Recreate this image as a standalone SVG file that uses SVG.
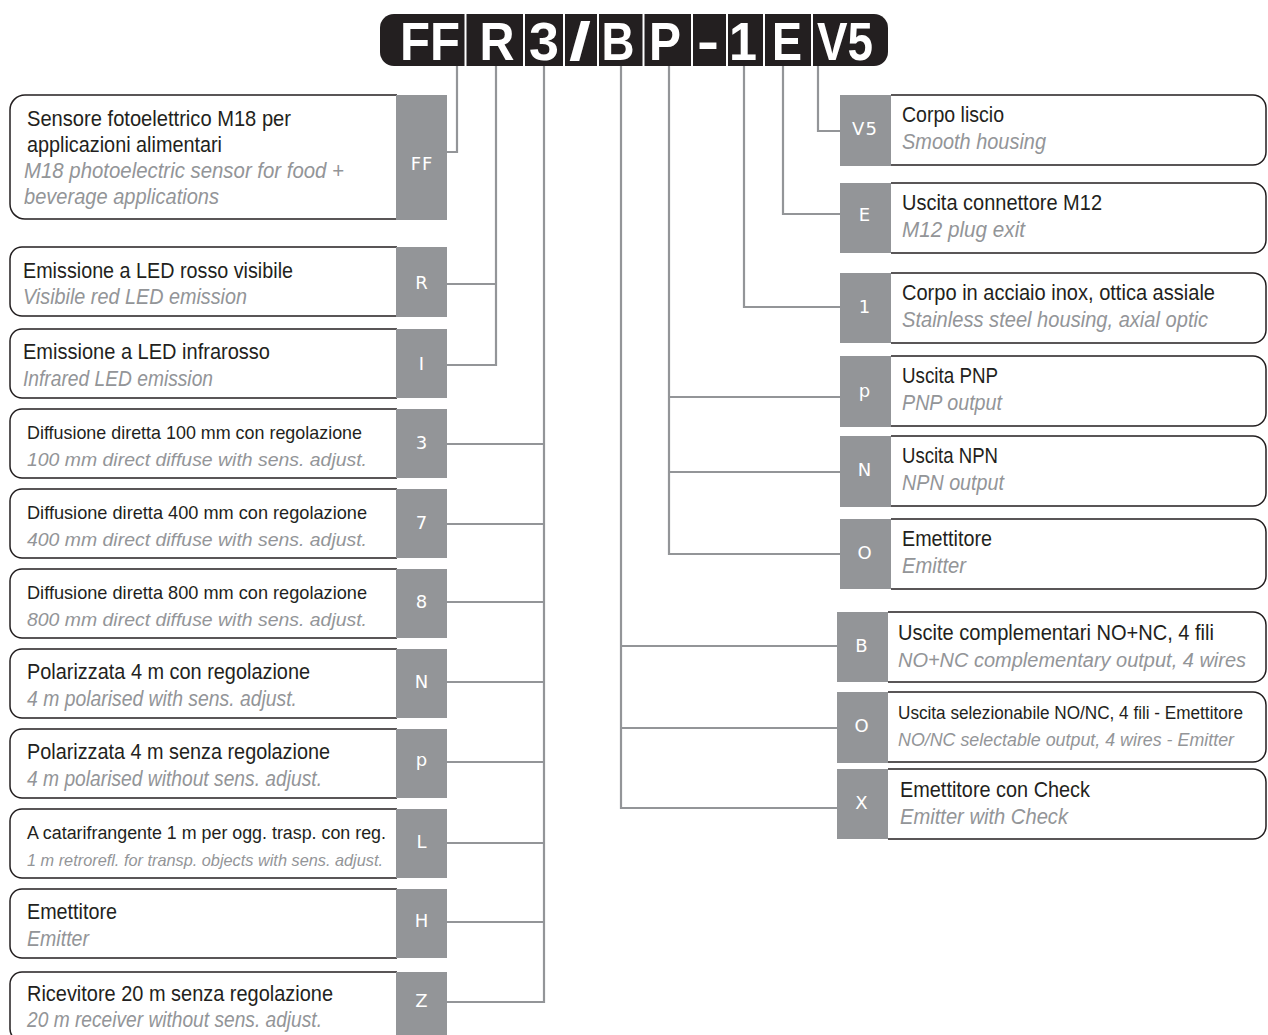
<svg xmlns="http://www.w3.org/2000/svg" width="1268" height="1035" viewBox="0 0 1268 1035">
<style>
.box{fill:#fff;stroke:#231f20;stroke-width:1.5}
.tab{fill:#939598}
.tl{font-family:"DejaVu Sans",sans-serif;font-size:18px;fill:#fff;text-anchor:middle;dominant-baseline:central;letter-spacing:1px}
.t1{font-family:"Liberation Sans",Arial,sans-serif;font-size:22px;fill:#231f20}
.t2{font-family:"Liberation Sans",Arial,sans-serif;font-size:22px;font-style:italic;fill:#939598}
.hd{font-family:"Liberation Sans",Arial,sans-serif;font-size:54px;font-weight:bold;fill:#fff;text-anchor:middle}
.con{fill:none;stroke:#939598;stroke-width:2.2}
.sep{stroke:#fff;stroke-width:2}
</style>
<rect width="1268" height="1035" fill="#fff"/>
<g id="header">
<rect x="380" y="14" width="508" height="52" rx="14" fill="#231f20"/>
<line class="sep" x1="465.5" y1="14" x2="465.5" y2="66"/>
<line class="sep" x1="524" y1="14" x2="524" y2="66"/>
<line class="sep" x1="564" y1="14" x2="564" y2="66"/>
<line class="sep" x1="598" y1="14" x2="598" y2="66"/>
<line class="sep" x1="643.5" y1="14" x2="643.5" y2="66"/>
<line class="sep" x1="692" y1="14" x2="692" y2="66"/>
<line class="sep" x1="727" y1="14" x2="727" y2="66"/>
<line class="sep" x1="764" y1="14" x2="764" y2="66"/>
<line class="sep" x1="812" y1="14" x2="812" y2="66"/>
<text class="hd" x="430" y="60" textLength="60" lengthAdjust="spacingAndGlyphs">FF</text>
<text class="hd" x="497" y="60" textLength="35" lengthAdjust="spacingAndGlyphs">R</text>
<text class="hd" x="544" y="60" textLength="30" lengthAdjust="spacingAndGlyphs">3</text>
<text class="hd" x="580" y="60" textLength="22" lengthAdjust="spacingAndGlyphs">/</text>
<text class="hd" x="618" y="60" textLength="33" lengthAdjust="spacingAndGlyphs">B</text>
<text class="hd" x="665" y="60" textLength="32" lengthAdjust="spacingAndGlyphs">P</text>
<text class="hd" x="708" y="60" textLength="22" lengthAdjust="spacingAndGlyphs">-</text>
<text class="hd" x="743" y="60" textLength="28" lengthAdjust="spacingAndGlyphs">1</text>
<text class="hd" x="787" y="60" textLength="30" lengthAdjust="spacingAndGlyphs">E</text>
<text class="hd" x="845" y="60" textLength="56" lengthAdjust="spacingAndGlyphs">V5</text>
</g>
<g id="connectors">
<path class="con" d="M457,66 V152 H447"/>
<path class="con" d="M496,66 V365 H447 M447,284 H496"/>
<path class="con" d="M544,66 V1002 H447 M447,444 H544 M447,524 H544 M447,602 H544 M447,682 H544 M447,762 H544 M447,843 H544 M447,922 H544"/>
<path class="con" d="M621,66 V808 H837 M621,646 H837 M621,728 H837"/>
<path class="con" d="M669,66 V554 H840 M669,397 H840 M669,472 H840"/>
<path class="con" d="M744,66 V307 H840"/>
<path class="con" d="M783,66 V214 H840"/>
<path class="con" d="M818,66 V131 H840"/>
</g>
<g id="node-FF">
<path class="box" d="M397,95 H25 A15,15 0 0 0 10,110 V204 A15,15 0 0 0 25,219 H397"/>
<rect class="tab" x="396" y="95" width="51" height="125"/>
<text class="tl" x="422" y="163">FF</text>
<text class="t1" x="27" y="126" textLength="264" lengthAdjust="spacingAndGlyphs">Sensore fotoelettrico M18 per</text>
<text class="t1" x="27" y="152" textLength="195" lengthAdjust="spacingAndGlyphs">applicazioni alimentari</text>
<text class="t2" x="24" y="178" textLength="320" lengthAdjust="spacingAndGlyphs">M18 photoelectric sensor for food +</text>
<text class="t2" x="24" y="204" textLength="195" lengthAdjust="spacingAndGlyphs">beverage applications</text>
</g>
<g id="node-R">
<path class="box" d="M397,247 H22 A12,12 0 0 0 10,259 V304 A12,12 0 0 0 22,316 H397"/>
<rect class="tab" x="396" y="247" width="51" height="70"/>
<text class="tl" x="422" y="282">R</text>
<text class="t1" x="23" y="278" textLength="270" lengthAdjust="spacingAndGlyphs">Emissione a LED rosso visibile</text>
<text class="t2" x="23" y="304" textLength="224" lengthAdjust="spacingAndGlyphs">Visibile red LED emission</text>
</g>
<g id="node-I">
<path class="box" d="M397,329 H22 A12,12 0 0 0 10,341 V386 A12,12 0 0 0 22,398 H397"/>
<rect class="tab" x="396" y="329" width="51" height="69"/>
<text class="tl" x="422" y="363">I</text>
<text class="t1" x="23" y="359" textLength="247" lengthAdjust="spacingAndGlyphs">Emissione a LED infrarosso</text>
<text class="t2" x="23" y="386" textLength="190" lengthAdjust="spacingAndGlyphs">Infrared LED emission</text>
</g>
<g id="node-3">
<path class="box" d="M397,409 H22 A12,12 0 0 0 10,421 V466 A12,12 0 0 0 22,478 H397"/>
<rect class="tab" x="396" y="409" width="51" height="69"/>
<text class="tl" x="422" y="442">3</text>
<text class="t1" x="27" y="439" style="font-size:19px" textLength="335" lengthAdjust="spacingAndGlyphs">Diffusione diretta 100 mm con regolazione</text>
<text class="t2" x="27" y="466" style="font-size:19px" textLength="340" lengthAdjust="spacingAndGlyphs">100 mm direct diffuse with sens. adjust.</text>
</g>
<g id="node-7">
<path class="box" d="M397,489 H22 A12,12 0 0 0 10,501 V546 A12,12 0 0 0 22,558 H397"/>
<rect class="tab" x="396" y="489" width="51" height="69"/>
<text class="tl" x="422" y="522">7</text>
<text class="t1" x="27" y="519" style="font-size:19px" textLength="340" lengthAdjust="spacingAndGlyphs">Diffusione diretta 400 mm con regolazione</text>
<text class="t2" x="27" y="546" style="font-size:19px" textLength="340" lengthAdjust="spacingAndGlyphs">400 mm direct diffuse with sens. adjust.</text>
</g>
<g id="node-8">
<path class="box" d="M397,569 H22 A12,12 0 0 0 10,581 V626 A12,12 0 0 0 22,638 H397"/>
<rect class="tab" x="396" y="569" width="51" height="69"/>
<text class="tl" x="422" y="601">8</text>
<text class="t1" x="27" y="599" style="font-size:19px" textLength="340" lengthAdjust="spacingAndGlyphs">Diffusione diretta 800 mm con regolazione</text>
<text class="t2" x="27" y="626" style="font-size:19px" textLength="340" lengthAdjust="spacingAndGlyphs">800 mm direct diffuse with sens. adjust.</text>
</g>
<g id="node-N">
<path class="box" d="M397,649 H22 A12,12 0 0 0 10,661 V706 A12,12 0 0 0 22,718 H397"/>
<rect class="tab" x="396" y="649" width="51" height="69"/>
<text class="tl" x="422" y="681">N</text>
<text class="t1" x="27" y="679" textLength="283" lengthAdjust="spacingAndGlyphs">Polarizzata 4 m con regolazione</text>
<text class="t2" x="27" y="706" textLength="270" lengthAdjust="spacingAndGlyphs">4 m polarised with sens. adjust.</text>
</g>
<g id="node-p">
<path class="box" d="M397,729 H22 A12,12 0 0 0 10,741 V786 A12,12 0 0 0 22,798 H397"/>
<rect class="tab" x="396" y="729" width="51" height="69"/>
<text class="tl" x="422" y="759">p</text>
<text class="t1" x="27" y="759" textLength="303" lengthAdjust="spacingAndGlyphs">Polarizzata 4 m senza regolazione</text>
<text class="t2" x="27" y="786" textLength="295" lengthAdjust="spacingAndGlyphs">4 m polarised without sens. adjust.</text>
</g>
<g id="node-L">
<path class="box" d="M397,809 H22 A12,12 0 0 0 10,821 V866 A12,12 0 0 0 22,878 H397"/>
<rect class="tab" x="396" y="809" width="51" height="69"/>
<text class="tl" x="422" y="841">L</text>
<text class="t1" x="27" y="839" style="font-size:18px" textLength="359" lengthAdjust="spacingAndGlyphs">A catarifrangente 1 m per ogg. trasp. con reg.</text>
<text class="t2" x="27" y="866" style="font-size:16.5px" textLength="356" lengthAdjust="spacingAndGlyphs">1 m retrorefl. for transp. objects with sens. adjust.</text>
</g>
<g id="node-H">
<path class="box" d="M397,889 H22 A12,12 0 0 0 10,901 V946 A12,12 0 0 0 22,958 H397"/>
<rect class="tab" x="396" y="889" width="51" height="69"/>
<text class="tl" x="422" y="920">H</text>
<text class="t1" x="27" y="919" textLength="90" lengthAdjust="spacingAndGlyphs">Emettitore</text>
<text class="t2" x="27" y="946" textLength="62" lengthAdjust="spacingAndGlyphs">Emitter</text>
</g>
<g id="node-Z">
<path class="box" d="M397,972 H22 A12,12 0 0 0 10,984 V1029 A12,12 0 0 0 22,1041 H397"/>
<rect class="tab" x="396" y="972" width="51" height="69"/>
<text class="tl" x="422" y="1000">Z</text>
<text class="t1" x="27" y="1001" textLength="306" lengthAdjust="spacingAndGlyphs">Ricevitore 20 m senza regolazione</text>
<text class="t2" x="27" y="1027" textLength="295" lengthAdjust="spacingAndGlyphs">20 m receiver without sens. adjust.</text>
</g>
<g id="node-V5">
<path class="box" d="M891,95 H1253 A13,13 0 0 1 1266,108 V152 A13,13 0 0 1 1253,165 H891"/>
<rect class="tab" x="840" y="95" width="51" height="71"/>
<text class="tl" x="865" y="128">V5</text>
<text class="t1" x="902" y="122" textLength="102" lengthAdjust="spacingAndGlyphs">Corpo liscio</text>
<text class="t2" x="902" y="149" textLength="144" lengthAdjust="spacingAndGlyphs">Smooth housing</text>
</g>
<g id="node-E">
<path class="box" d="M891,183 H1253 A13,13 0 0 1 1266,196 V240 A13,13 0 0 1 1253,253 H891"/>
<rect class="tab" x="840" y="183" width="51" height="70"/>
<text class="tl" x="865" y="214">E</text>
<text class="t1" x="902" y="210" textLength="200" lengthAdjust="spacingAndGlyphs">Uscita connettore M12</text>
<text class="t2" x="902" y="237" textLength="123" lengthAdjust="spacingAndGlyphs">M12 plug exit</text>
</g>
<g id="node-1">
<path class="box" d="M891,273 H1253 A13,13 0 0 1 1266,286 V330 A13,13 0 0 1 1253,343 H891"/>
<rect class="tab" x="840" y="273" width="51" height="70"/>
<text class="tl" x="865" y="306">1</text>
<text class="t1" x="902" y="300" textLength="313" lengthAdjust="spacingAndGlyphs">Corpo in acciaio inox, ottica assiale</text>
<text class="t2" x="902" y="327" textLength="306" lengthAdjust="spacingAndGlyphs">Stainless steel housing, axial optic</text>
</g>
<g id="node-PNP">
<path class="box" d="M891,356 H1253 A13,13 0 0 1 1266,369 V413 A13,13 0 0 1 1253,426 H891"/>
<rect class="tab" x="840" y="356" width="51" height="71"/>
<text class="tl" x="865" y="390">p</text>
<text class="t1" x="902" y="383" textLength="96" lengthAdjust="spacingAndGlyphs">Uscita PNP</text>
<text class="t2" x="902" y="410" textLength="100" lengthAdjust="spacingAndGlyphs">PNP output</text>
</g>
<g id="node-NPN">
<path class="box" d="M891,436 H1253 A13,13 0 0 1 1266,449 V493 A13,13 0 0 1 1253,506 H891"/>
<rect class="tab" x="840" y="436" width="51" height="71"/>
<text class="tl" x="865" y="469">N</text>
<text class="t1" x="902" y="463" textLength="96" lengthAdjust="spacingAndGlyphs">Uscita NPN</text>
<text class="t2" x="902" y="490" textLength="102" lengthAdjust="spacingAndGlyphs">NPN output</text>
</g>
<g id="node-O1">
<path class="box" d="M891,519 H1253 A13,13 0 0 1 1266,532 V576 A13,13 0 0 1 1253,589 H891"/>
<rect class="tab" x="840" y="519" width="51" height="70"/>
<text class="tl" x="865" y="552">O</text>
<text class="t1" x="902" y="546" textLength="90" lengthAdjust="spacingAndGlyphs">Emettitore</text>
<text class="t2" x="902" y="573" textLength="64" lengthAdjust="spacingAndGlyphs">Emitter</text>
</g>
<g id="node-B">
<path class="box" d="M888,612 H1253 A13,13 0 0 1 1266,625 V669 A13,13 0 0 1 1253,682 H888"/>
<rect class="tab" x="837" y="612" width="51" height="70"/>
<text class="tl" x="862" y="645">B</text>
<text class="t1" x="898" y="640" textLength="316" lengthAdjust="spacingAndGlyphs">Uscite complementari NO+NC, 4 fili</text>
<text class="t2" x="898" y="667" style="font-size:20px" textLength="348" lengthAdjust="spacingAndGlyphs">NO+NC complementary output, 4 wires</text>
</g>
<g id="node-O2">
<path class="box" d="M888,692 H1253 A13,13 0 0 1 1266,705 V749 A13,13 0 0 1 1253,762 H888"/>
<rect class="tab" x="837" y="692" width="51" height="71"/>
<text class="tl" x="862" y="725">O</text>
<text class="t1" x="898" y="719" style="font-size:18px" textLength="345" lengthAdjust="spacingAndGlyphs">Uscita selezionabile NO/NC, 4 fili - Emettitore</text>
<text class="t2" x="898" y="746" style="font-size:18.5px" textLength="336" lengthAdjust="spacingAndGlyphs">NO/NC selectable output, 4 wires - Emitter</text>
</g>
<g id="node-X">
<path class="box" d="M888,769 H1253 A13,13 0 0 1 1266,782 V826 A13,13 0 0 1 1253,839 H888"/>
<rect class="tab" x="837" y="769" width="51" height="70"/>
<text class="tl" x="862" y="802">X</text>
<text class="t1" x="900" y="797" textLength="190" lengthAdjust="spacingAndGlyphs">Emettitore con Check</text>
<text class="t2" x="900" y="824" textLength="168" lengthAdjust="spacingAndGlyphs">Emitter with Check</text>
</g>
</svg>
